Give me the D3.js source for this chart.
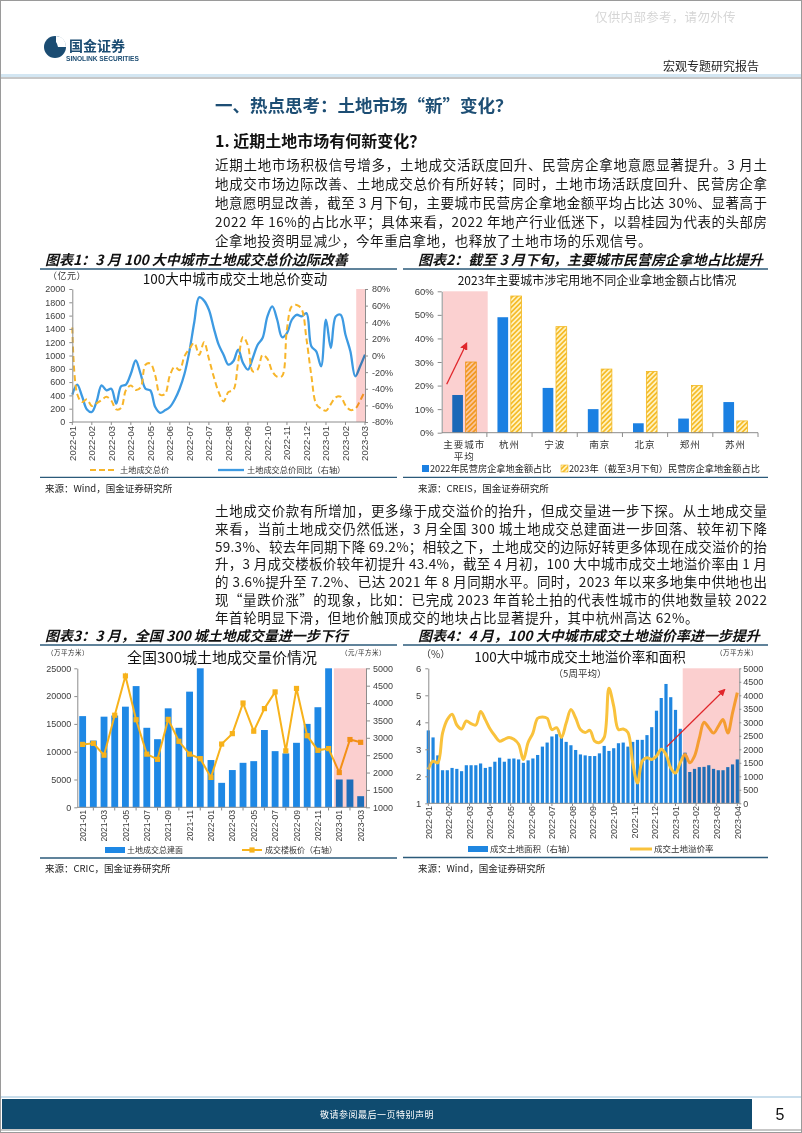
<!DOCTYPE html>
<html><head><meta charset="utf-8">
<script src="https://cdn.jsdelivr.net/npm/d3@7"></script>
<style>
body{margin:0;background:#fff;}
svg{display:block;}
</style></head><body>
<svg id="page" width="802" height="1133"></svg>
<script>
// ---------------- DATA ----------------
// Chart 1: weekly, 2022-01 .. 2023-03
const c1Ticks = ["2022-01","2022-02","2022-03","2022-04","2022-05","2022-06","2022-07","2022-07","2022-08","2022-09","2022-10","2022-11","2022-12","2023-01","2023-02","2023-03"];
const c1Total = [1420,420,300,340,240,280,330,380,320,190, 210,480,550,480,520,860,880,700,410,420, 700,830,780,990,1100,1190,1010,1200,950,680, 450,310,450,480,900,1280,1150,760,790,1010, 950,760,680,690,1400,1740,1760,1700,1250,700, 270,200,170,270,370,380,250,180,200,320, 470];
const c1Yoy = [-47,-35,-49,-65,-68,-55,-36,-42,-40,-58, -37,-35,-22,-6,-22,-40,-42,-62,-69,-66, -62,-53,-40,-22,5,40,70,66,55,33, 13,1,-11,-7,7,-9,-17,-3,13,21, 47,59,43,22,27,43,49,47,51,11, 5,-13,43,9,47,49,25,5,-25,-13, 1];
const c1LeftTicks = [0,200,400,600,800,1000,1200,1400,1600,1800,2000];
const c1RightTicks = [-80,-60,-40,-20,0,20,40,60,80];

// Chart 2
const c2Cities = ["主要城市平均","杭州","宁波","南京","北京","郑州","苏州"];
const c2Y2022 = [16,49,19,10,4,6,13];
const c2Y2023 = [30,58,45,27,26,20,5];
const c2Ticks = [0,10,20,30,40,50,60];

// Chart 3: monthly 2021-01 .. 2023-03
const c3Months = ["2021-01","2021-02","2021-03","2021-04","2021-05","2021-06","2021-07","2021-08","2021-09","2021-10","2021-11","2021-12","2022-01","2022-02","2022-03","2022-04","2022-05","2022-06","2022-07","2022-08","2022-09","2022-10","2022-11","2022-12","2023-01","2023-02","2023-03"];
const c3Area = [16400,12000,16300,16500,18100,21800,14300,12250,17800,14300,20800,25000,8500,4400,6700,8000,8300,13900,10100,9700,11600,15000,18000,25000,5000,5000,2000];
const c3Price = [2810,2840,2500,3650,4780,3520,2530,2380,3530,2900,2530,2400,1860,2820,3120,4000,3190,3840,4320,2625,4420,3060,2640,2690,2000,2950,2870];
const c3LeftTicks = [0,5000,10000,15000,20000,25000];
const c3RightTicks = [1000,1500,2000,2500,3000,3500,4000,4500,5000];

// Chart 4: weekly (5-week avg), 2022-01 .. 2023-04
const c4Ticks = ["2022-01","2022-02","2022-03","2022-04","2022-05","2022-06","2022-07","2022-08","2022-09","2022-10","2022-11","2022-12","2023-01","2023-02","2023-03","2023-04"];
const c4Area = [2700,2440,1775,1225,1225,1310,1275,1190,1410,1410, 1410,1475,1310,1350,1540,1690,1540,1650,1660,1625, 1500,1590,1660,1790,2100,2250,2475,2560,2440,2275, 2150,1975,1810,1775,1750,1750,1850,2125,1940,2040, 2225,2250,2100,2275,2350,2350,2525,2820,3430,3900, 4420,3930,3460,2760,1875,1160,1275,1340,1350,1410, 1275,1225,1225,1340,1440,1625];
const c4Rate = [2.25,2.56,2.5,3.6,4.1,4.3,3.9,3.75,4.05,3.95, 3.9,4.4,4.1,3.75,3.5,3.3,3.37,3.44,3.37,3.19, 2.62,3.25,3.6,4.15,4.2,4.15,3.73,3.8,3.44,3.97, 4.47,4.16,3.73,3.62,3.7,3.3,3.25,3.44,5.26,4.6, 3.73,3.75,3.62,2.5,1.75,2.56,2.69,2.62,2.75,3.0, 2.81,2.31,2.12,2.5,2.81,2.5,2.75,3.4,4.0,3.8, 3.6,3.85,4.1,3.6,4.35,5.1];
const c4LeftTicks = [1,2,3,4,5,6];
const c4RightTicks = [0,500,1000,1500,2000,2500,3000,3500,4000,4500,5000];

// Text
const para1 = [
 "近期土地市场积极信号增多，土地成交活跃度回升、民营房企拿地意愿显著提升。3 月土",
 "地成交市场边际改善、土地成交总价有所好转；同时，土地市场活跃度回升、民营房企拿",
 "地意愿明显改善，截至 3 月下旬，主要城市民营房企拿地金额平均占比达 30%、显著高于",
 "2022 年 16%的占比水平；具体来看，2022 年地产行业低迷下，以碧桂园为代表的头部房",
 "企拿地投资明显减少，今年重启拿地，也释放了土地市场的乐观信号。"];
const para2 = [
 "土地成交价款有所增加，更多缘于成交溢价的抬升，但成交量进一步下探。从土地成交量",
 "来看，当前土地成交仍然低迷，3 月全国 300 城土地成交总建面进一步回落、较年初下降",
 "59.3%、较去年同期下降 69.2%；相较之下，土地成交的边际好转更多体现在成交溢价的抬",
 "升，3 月成交楼板价较年初提升 43.4%，截至 4 月初，100 大中城市成交土地溢价率由 1 月",
 "的 3.6%提升至 7.2%、已达 2021 年 8 月同期水平。同时，2023 年以来多地集中供地也出",
 "现“量跌价涨”的现象，比如：已完成 2023 年首轮土拍的代表性城市的供地数量较 2022",
 "年首轮明显下滑，但地价触顶成交的地块占比显著提升，其中杭州高达 62%。"];

// ---------------- HELPERS ----------------
const CJK = '"Noto Sans CJK SC","Noto Sans CJK JP",sans-serif';
const LAT = '"Liberation Sans",Arial,sans-serif';
const svg = d3.select("#page");
const defs = svg.append("defs");
const fmtInt = d3.format("d");

function T(g,x,y,s,o={}){
  const t=g.append("text").attr("x",x).attr("y",y).text(s)
    .attr("font-family",o.ff||CJK).attr("font-size",o.fs||12).attr("fill",o.fill||"#111");
  if(o.fw) t.attr("font-weight",o.fw);
  if(o.anchor) t.attr("text-anchor",o.anchor);
  if(o.style) t.attr("font-style",o.style);
  if(o.tl) t.attr("textLength",o.tl).attr("lengthAdjust","spacing");
  if(o.ls) t.attr("letter-spacing",o.ls);
  return t;
}
function hline(g,x1,x2,y,c,w){g.append("line").attr("x1",x1).attr("x2",x2).attr("y1",y).attr("y2",y).attr("stroke",c).attr("stroke-width",w);}
function styleAxis(a,fs){
  a.selectAll("path").attr("stroke","#8c8c8c").attr("stroke-width",1);
  a.selectAll("line").attr("stroke","#8c8c8c");
  a.selectAll("text").attr("font-family",LAT).attr("font-size",fs||9).attr("fill","#404040");
}
function rotLabels(g,xs,labels,y0,fs){
  labels.forEach((l,i)=>{
    g.append("text").attr("transform",`translate(${xs[i]+fs*0.36},${y0}) rotate(-90)`)
     .attr("text-anchor","end").attr("font-family",LAT).attr("font-size",fs).attr("fill","#404040").text(l);
  });
}

// markers / patterns
defs.append("marker").attr("id","arrowR").attr("viewBox","0 0 10 10").attr("refX",8).attr("refY",5)
  .attr("markerWidth",6).attr("markerHeight",6).attr("orient","auto")
  .append("path").attr("d","M0,0L10,5L0,10z").attr("fill","#e0262b");
const pat = defs.append("pattern").attr("id","hatch").attr("patternUnits","userSpaceOnUse")
  .attr("width",3.4).attr("height",3.4).attr("patternTransform","rotate(45)");
pat.append("rect").attr("width",3.4).attr("height",3.4).attr("fill","#fff2c0");
pat.append("rect").attr("width",1.7).attr("height",3.4).attr("fill","#f5bc2a");

// ---------------- PAGE FRAME / HEADER ----------------
svg.append("rect").attr("x",0.5).attr("y",0.5).attr("width",801).attr("height",1132).attr("fill","none").attr("stroke","#9a9a9a");
T(svg,595,22,"仅供内部参考，请勿外传",{fs:12.5,fill:"#d6d6d6",ls:0.3});
// logo
svg.append("circle").attr("cx",55).attr("cy",47).attr("r",11).attr("fill","#1b4c72");
svg.append("path").attr("d","M56,36 Q66,37 66,47 L58,47 Q57,43 56,42 Z").attr("fill","#fff");
T(svg,69,51,"国金证券",{fs:14,fw:700,fill:"#1b4c72"});
T(svg,66,61,"SINOLINK SECURITIES",{fs:6.6,fw:700,ff:LAT,fill:"#1b4c72"});
T(svg,663,71,"宏观专题研究报告",{fs:12,fill:"#222"});
svg.append("rect").attr("x",1).attr("y",74).attr("width",800).attr("height",3).attr("fill","#d3e6f2");
hline(svg,1,801,78,"#8f8f8f",1.2);

// headings
T(svg,215,112,"一、热点思考：土地市场“新”变化？",{fs:17.5,fw:700,fill:"#1d4e74"});
T(svg,215,147,"1. 近期土地市场有何新变化？",{fs:16,fw:700,fill:"#111"});
para1.forEach((l,i)=>{
  T(svg,215,170+i*19,l,{fs:13.5,fill:"#1a1a1a",tl: i<para1.length-1?552:null,ls:i<para1.length-1?0:0.6});
});
para2.forEach((l,i)=>{
  T(svg,215,516+i*17.8,l,{fs:13.5,fill:"#1a1a1a",tl: i<para2.length-1?552:null,ls:i<para2.length-1?0:0.6});
});

// chart titles / frames
const titleOpts={fs:14,fw:700,style:"italic",fill:"#111"};
T(svg,45,265,"图表1：3 月 100 大中城市土地成交总价边际改善",titleOpts);
T(svg,418,265,"图表2：截至 3 月下旬，主要城市民营房企拿地占比提升",titleOpts);
T(svg,45,641,"图表3：3 月，全国 300 城土地成交量进一步下行",titleOpts);
T(svg,418,641,"图表4：4 月，100 大中城市成交土地溢价率进一步提升",titleOpts);
hline(svg,40,397,269,"#2b5a7a",1.3); hline(svg,403,768,269,"#2b5a7a",1.3);
hline(svg,40,397,645,"#2b5a7a",1.3);   hline(svg,403,768,645,"#2b5a7a",1.3);
hline(svg,40,397,477.3,"#2b5a7a",1.3); hline(svg,403,768,477.3,"#2b5a7a",1.3);
hline(svg,40,397,858,"#2b5a7a",1.3);   hline(svg,403,768,857.5,"#2b5a7a",1.3);
T(svg,45,492,"来源：Wind，国金证券研究所",{fs:9.5,fill:"#222"});
T(svg,418,492,"来源：CREIS，国金证券研究所",{fs:9.5,fill:"#222"});
T(svg,45,872,"来源：CRIC，国金证券研究所",{fs:9.5,fill:"#222"});
T(svg,418,872,"来源：Wind，国金证券研究所",{fs:9.5,fill:"#222"});

// ---------------- CHART 1 ----------------
(function(){
  const g = svg.append("g");
  const x = d3.scaleLinear().domain([0,c1Total.length-1]).range([72.3,365]);
  const yL = d3.scaleLinear().domain([0,2000]).range([422,289]);
  const yR = d3.scaleLinear().domain([-80,80]).range([422,289]);
  T(g,48,279,"（亿元）",{fs:9,ls:0.5,fill:"#333"});
  T(g,235,284,"100大中城市成交土地总价变动",{fs:13.5,anchor:"middle",fill:"#111"});
  const curve = d3.curveCatmullRom.alpha(0.5);
  g.append("path").datum(c1Yoy).attr("fill","none").attr("stroke","#3d9ae2").attr("stroke-width",2.3)
    .attr("d",d3.line().x((d,i)=>x(i)).y(d=>yR(d)).curve(curve));
  g.append("path").datum(c1Total).attr("fill","none").attr("stroke","#f7b52a").attr("stroke-width",2)
    .attr("stroke-dasharray","6,3.5")
    .attr("d",d3.line().x((d,i)=>x(i)).y(d=>yL(d)).curve(curve));
  g.append("rect").attr("x",x(58.2)).attr("y",289).attr("width",365-x(58.2)).attr("height",133)
    .attr("fill","#fbcfcf").style("mix-blend-mode","multiply");
  const aL = g.append("g").attr("transform","translate(72.3,0)")
    .call(d3.axisLeft(yL).tickValues(c1LeftTicks).tickFormat(fmtInt).tickSize(3).tickSizeOuter(0).tickPadding(4));
  styleAxis(aL,9);
  const aR = g.append("g").attr("transform","translate(365,0)")
    .call(d3.axisRight(yR).tickValues(c1RightTicks).tickFormat(d=>d+"%").tickSize(3).tickSizeOuter(0).tickPadding(4));
  styleAxis(aR,9);
  hline(g,72.3,365,422,"#8c8c8c",1);
  const step = (c1Total.length-1)/(c1Ticks.length-1);
  const xs = c1Ticks.map((t,i)=>x(i*step));
  xs.forEach(v=>g.append("line").attr("x1",v).attr("x2",v).attr("y1",422).attr("y2",425).attr("stroke","#8c8c8c"));
  rotLabels(g,xs,c1Ticks,426,9.5);
  // legend
  g.append("line").attr("x1",90).attr("x2",117).attr("y1",470).attr("y2",470).attr("stroke","#f7b52a").attr("stroke-width",2).attr("stroke-dasharray","6,3");
  T(g,120,473,"土地成交总价",{fs:8.2,fill:"#333"});
  g.append("line").attr("x1",218).attr("x2",244).attr("y1",470).attr("y2",470).attr("stroke","#3d9ae2").attr("stroke-width",2.3);
  T(g,247,473,"土地成交总价同比（右轴）",{fs:8.2,fill:"#333"});
})();

// ---------------- CHART 2 ----------------
(function(){
  const g = svg.append("g");
  const x = d3.scaleBand().domain(c2Cities).range([441.7,758]);
  const sub = d3.scaleBand().domain(["a","b"]).range([0,x.bandwidth()]).paddingInner(0.2).paddingOuter(0.79);
  const y = d3.scaleLinear().domain([0,60]).range([432.7,291.3]);
  T(g,597,285,"2023年主要城市涉宅用地不同企业拿地金额占比情况",{fs:12,anchor:"middle",fill:"#111"});
  g.selectAll(".b1").data(c2Y2022).join("rect")
    .attr("x",(d,i)=>x(c2Cities[i])+sub("a")).attr("width",sub.bandwidth())
    .attr("y",d=>y(d)).attr("height",d=>432.7-y(d)).attr("fill","#1b80e2");
  g.selectAll(".b2").data(c2Y2023).join("rect")
    .attr("x",(d,i)=>x(c2Cities[i])+sub("b")).attr("width",sub.bandwidth())
    .attr("y",d=>y(d)).attr("height",d=>432.7-y(d)).attr("fill","url(#hatch)")
    .attr("stroke","#f2b71f").attr("stroke-width",0.8);
  g.append("rect").attr("x",x(c2Cities[0])+1.3).attr("y",291.3).attr("width",x.bandwidth()-0.5).attr("height",141.4)
    .attr("fill","#fbd0d0").style("mix-blend-mode","multiply");
  const aL = g.append("g").attr("transform","translate(441.7,0)")
    .call(d3.axisLeft(y).tickValues(c2Ticks).tickFormat(d=>d+"%").tickSize(4).tickSizeOuter(0).tickPadding(4));
  styleAxis(aL,9.5);
  hline(g,441.7,758,432.7,"#8c8c8c",1);
  c2Cities.forEach((c,i)=>{
    const xx = x(c)+x.bandwidth();
    g.append("line").attr("x1",xx).attr("x2",xx).attr("y1",432.7).attr("y2",437).attr("stroke","#8c8c8c");
    const cx = x(c)+x.bandwidth()/2;
    if(c.length>4){
      T(g,cx,447.5,c.slice(0,4),{fs:9.5,anchor:"middle",ls:1,fill:"#333"});
      T(g,cx,460,c.slice(4),{fs:9.5,anchor:"middle",ls:1,fill:"#333"});
    } else T(g,cx,447.5,c,{fs:9.5,anchor:"middle",ls:1,fill:"#333"});
  });
  // arrow
  g.append("line").attr("x1",446.7).attr("y1",384.3).attr("x2",466.5).attr("y2",343.5)
    .attr("stroke","#e0262b").attr("stroke-width",1.3).attr("marker-end","url(#arrowR)");
  // legend
  g.append("rect").attr("x",422).attr("y",465).attr("width",7).attr("height",7).attr("fill","#1b80e2");
  T(g,430,472,"2022年民营房企拿地金额占比",{fs:9.2,fill:"#222"});
  g.append("rect").attr("x",561).attr("y",465).attr("width",7).attr("height",7).attr("fill","url(#hatch)").attr("stroke","#f2b71f").attr("stroke-width",0.6);
  T(g,569,472,"2023年（截至3月下旬）民营房企拿地金额占比",{fs:9.2,fill:"#222"});
})();

// ---------------- CHART 3 ----------------
(function(){
  const g = svg.append("g");
  const x = d3.scaleBand().domain(c3Months).range([77.3,366]).paddingInner(0.36).paddingOuter(0.18);
  const yL = d3.scaleLinear().domain([0,25000]).range([807.3,668.3]);
  const yR = d3.scaleLinear().domain([1000,5000]).range([807.3,668.3]);
  T(g,47,655,"（万平方米）",{fs:6.5,ls:0.5,fill:"#333"});
  T(g,341,655,"（元/平方米）",{fs:6.5,ls:0.5,fill:"#333"});
  T(g,222,663,"全国300城土地成交量价情况",{fs:15,anchor:"middle",fill:"#111"});
  g.selectAll(".bar").data(c3Area).join("rect")
    .attr("x",(d,i)=>x(c3Months[i])).attr("width",x.bandwidth())
    .attr("y",d=>yL(d)).attr("height",d=>807.3-yL(d)).attr("fill","#1e88e5");
  const cx = i=>x(c3Months[i])+x.bandwidth()/2;
  g.append("path").datum(c3Price).attr("fill","none").attr("stroke","#f7b21b").attr("stroke-width",2)
    .attr("d",d3.line().x((d,i)=>cx(i)).y(d=>yR(d)));
  g.selectAll(".mk").data(c3Price).join("rect")
    .attr("x",(d,i)=>cx(i)-2.6).attr("y",d=>yR(d)-2.6).attr("width",5.2).attr("height",5.2).attr("fill","#f7b21b");
  const pinkX = x(c3Months[24]) - x.step()*x.paddingInner()/2;
  g.append("rect").attr("x",pinkX).attr("y",668.3).attr("width",366-pinkX).attr("height",139)
    .attr("fill","#fbcfcf").style("mix-blend-mode","multiply");
  const aL = g.append("g").attr("transform","translate(77.3,0)")
    .call(d3.axisLeft(yL).tickValues(c3LeftTicks).tickFormat(fmtInt).tickSize(3).tickSizeOuter(0).tickPadding(3));
  styleAxis(aL,9);
  const aR = g.append("g").attr("transform","translate(366,0)")
    .call(d3.axisRight(yR).tickValues(c3RightTicks).tickFormat(fmtInt).tickSize(4).tickSizeOuter(0).tickPadding(3));
  styleAxis(aR,9);
  hline(g,77.3,366,807.3,"#8c8c8c",1);
  const lab = c3Months.filter((m,i)=>i%2===0);
  const xs = c3Months.map((m,i)=>i).filter(i=>i%2===0).map(cx);
  c3Months.forEach((m,i)=>{ if(i%2===1){ const v=x(m)+x.bandwidth()/2; g.append("line").attr("x1",v).attr("x2",v).attr("y1",807.3).attr("y2",810.5).attr("stroke","#8c8c8c");}});
  rotLabels(g,xs,lab,810,8.6);
  // legend
  g.append("rect").attr("x",105).attr("y",847).attr("width",20).attr("height",6).attr("fill","#1e88e5");
  T(g,127,852.5,"土地成交总建面",{fs:8,fill:"#333"});
  g.append("line").attr("x1",242).attr("x2",262).attr("y1",850).attr("y2",850).attr("stroke","#f7b21b").attr("stroke-width",2);
  g.append("rect").attr("x",249.4).attr("y",847.4).attr("width",5.2).attr("height",5.2).attr("fill","#f7b21b");
  T(g,265,852.5,"成交楼板价（右轴）",{fs:8,fill:"#333"});
})();

// ---------------- CHART 4 ----------------
(function(){
  const g = svg.append("g");
  const x = d3.scaleLinear().domain([0,c4Area.length-1]).range([428.3,737.3]);
  const yL = d3.scaleLinear().domain([1,6]).range([803.3,668.3]);
  const yR = d3.scaleLinear().domain([0,5000]).range([803.3,668.3]);
  T(g,421,658,"（%）",{fs:10,fill:"#333"});
  T(g,716,655,"（万平方米）",{fs:6.5,ls:0.5,fill:"#333"});
  T(g,580,662,"100大中城市成交土地溢价率和面积",{fs:13.5,anchor:"middle",fill:"#111"});
  T(g,580,677,"（5周平均）",{fs:9.5,anchor:"middle",fill:"#333"});
  g.selectAll(".bar").data(c4Area).join("rect")
    .attr("x",(d,i)=>x(i)-1.6).attr("width",3.2)
    .attr("y",d=>yR(d)).attr("height",d=>803.3-yR(d)).attr("fill","#1f86e0");
  g.append("path").datum(c4Rate).attr("fill","none").attr("stroke","#f9c23c").attr("stroke-width",3)
    .attr("stroke-linejoin","round")
    .attr("d",d3.line().x((d,i)=>x(i)).y(d=>yL(d)).curve(d3.curveCatmullRom.alpha(0.5)));
  g.append("rect").attr("x",682.7).attr("y",668.3).attr("width",739.3-682.7).attr("height",135)
    .attr("fill","#fbcfcf").style("mix-blend-mode","multiply");
  const aL = g.append("g").attr("transform","translate(428.3,0)")
    .call(d3.axisLeft(yL).tickValues(c4LeftTicks).tickFormat(fmtInt).tickSize(3).tickSizeOuter(0).tickPadding(4));
  styleAxis(aL,9.5);
  const aR = g.append("g").attr("transform","translate(739.3,0)")
    .call(d3.axisRight(yR).tickValues(c4RightTicks).tickFormat(fmtInt).tickSize(2).tickSizeOuter(0).tickPadding(2));
  styleAxis(aR,9);
  hline(g,428.3,739.3,803.3,"#8c8c8c",1);
  const step = (c4Area.length-1)/(c4Ticks.length-1);
  const xs = c4Ticks.map((t,i)=>x(i*step));
  xs.forEach(v=>g.append("line").attr("x1",v).attr("x2",v).attr("y1",803.3).attr("y2",806).attr("stroke","#8c8c8c"));
  rotLabels(g,xs,c4Ticks,806,9);
  g.append("line").attr("x1",666.7).attr("y1",746.7).attr("x2",724.5).attr("y2",689.8)
    .attr("stroke","#e0262b").attr("stroke-width",1.2).attr("marker-end","url(#arrowR)");
  // legend
  g.append("rect").attr("x",468).attr("y",846).attr("width",20).attr("height",6).attr("fill","#1f86e0");
  T(g,490,852,"成交土地面积（右轴）",{fs:8.5,fill:"#333"});
  g.append("line").attr("x1",630).attr("x2",652).attr("y1",849).attr("y2",849).attr("stroke","#f9c23c").attr("stroke-width",3);
  T(g,654,852,"成交土地溢价率",{fs:8.5,fill:"#333"});
})();

// ---------------- FOOTER ----------------
hline(svg,1,801,1097,"#b7d3e6",1.5);
svg.append("rect").attr("x",2).attr("y",1099).attr("width",750).attr("height",30).attr("fill","#0f4b6f");
T(svg,377,1118,"敬请参阅最后一页特别声明",{fs:9,anchor:"middle",fill:"#fff",ls:0.5});
T(svg,780,1120,"5",{fs:16,ff:LAT,fill:"#111",anchor:"middle"});
hline(svg,1,801,1130,"#8f8f8f",1.2);
</script>
</body></html>
